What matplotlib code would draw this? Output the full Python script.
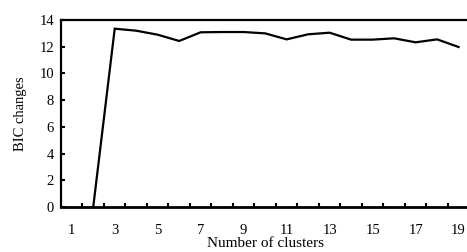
import matplotlib
matplotlib.use("Agg")
import matplotlib.pyplot as plt

clusters = list(range(2, 20))
bic_changes = [0.0, 13.35, 13.2, 12.9, 12.43, 13.08, 13.1, 13.1, 13.0, 12.55,
               12.93, 13.05, 12.53, 12.53, 12.63, 12.33, 12.55, 11.98]
x_tick_labels = [1, 3, 5, 7, 9, 11, 13, 15, 17, 19]
y_ticks = [0, 2, 4, 6, 8, 10, 12, 14]

plt.rcParams['font.family'] = ['Liberation Serif', 'DejaVu Serif']

fig = plt.figure(figsize=(4.67, 2.52), dpi=100)
ax = fig.add_axes([0.1306, 0.1786, 0.8744, 0.742])

ax.plot(clusters, bic_changes, color='black', linewidth=1.6, solid_joinstyle='miter', clip_on=True)

ax.set_xlim(0.5, 19.5)
ax.set_ylim(0, 14)

ax.set_xticks(x_tick_labels)
ax.set_xticklabels([str(v) for v in x_tick_labels], fontsize=10.5)
ax.set_xticks([i + 0.5 for i in range(1, 19)], minor=True)
ax.tick_params(axis='x', which='major', length=0, pad=12)
ax.tick_params(axis='x', which='minor', direction='in', length=3, width=1.5)

ax.set_yticks(y_ticks)
ax.set_yticklabels([str(v) for v in y_ticks], fontsize=10.5)
ax.tick_params(axis='y', direction='in', length=3, width=1.5, pad=5)

for side in ['left', 'top', 'bottom']:
    ax.spines[side].set_linewidth(1.6)
ax.spines['bottom'].set_linewidth(2.0)
ax.spines['right'].set_visible(False)

ax.set_xlabel('Number of clusters', fontsize=11, labelpad=0)
ax.set_ylabel('BIC changes', fontsize=10.5, labelpad=9)

fig.savefig('out.png', dpi=100)
